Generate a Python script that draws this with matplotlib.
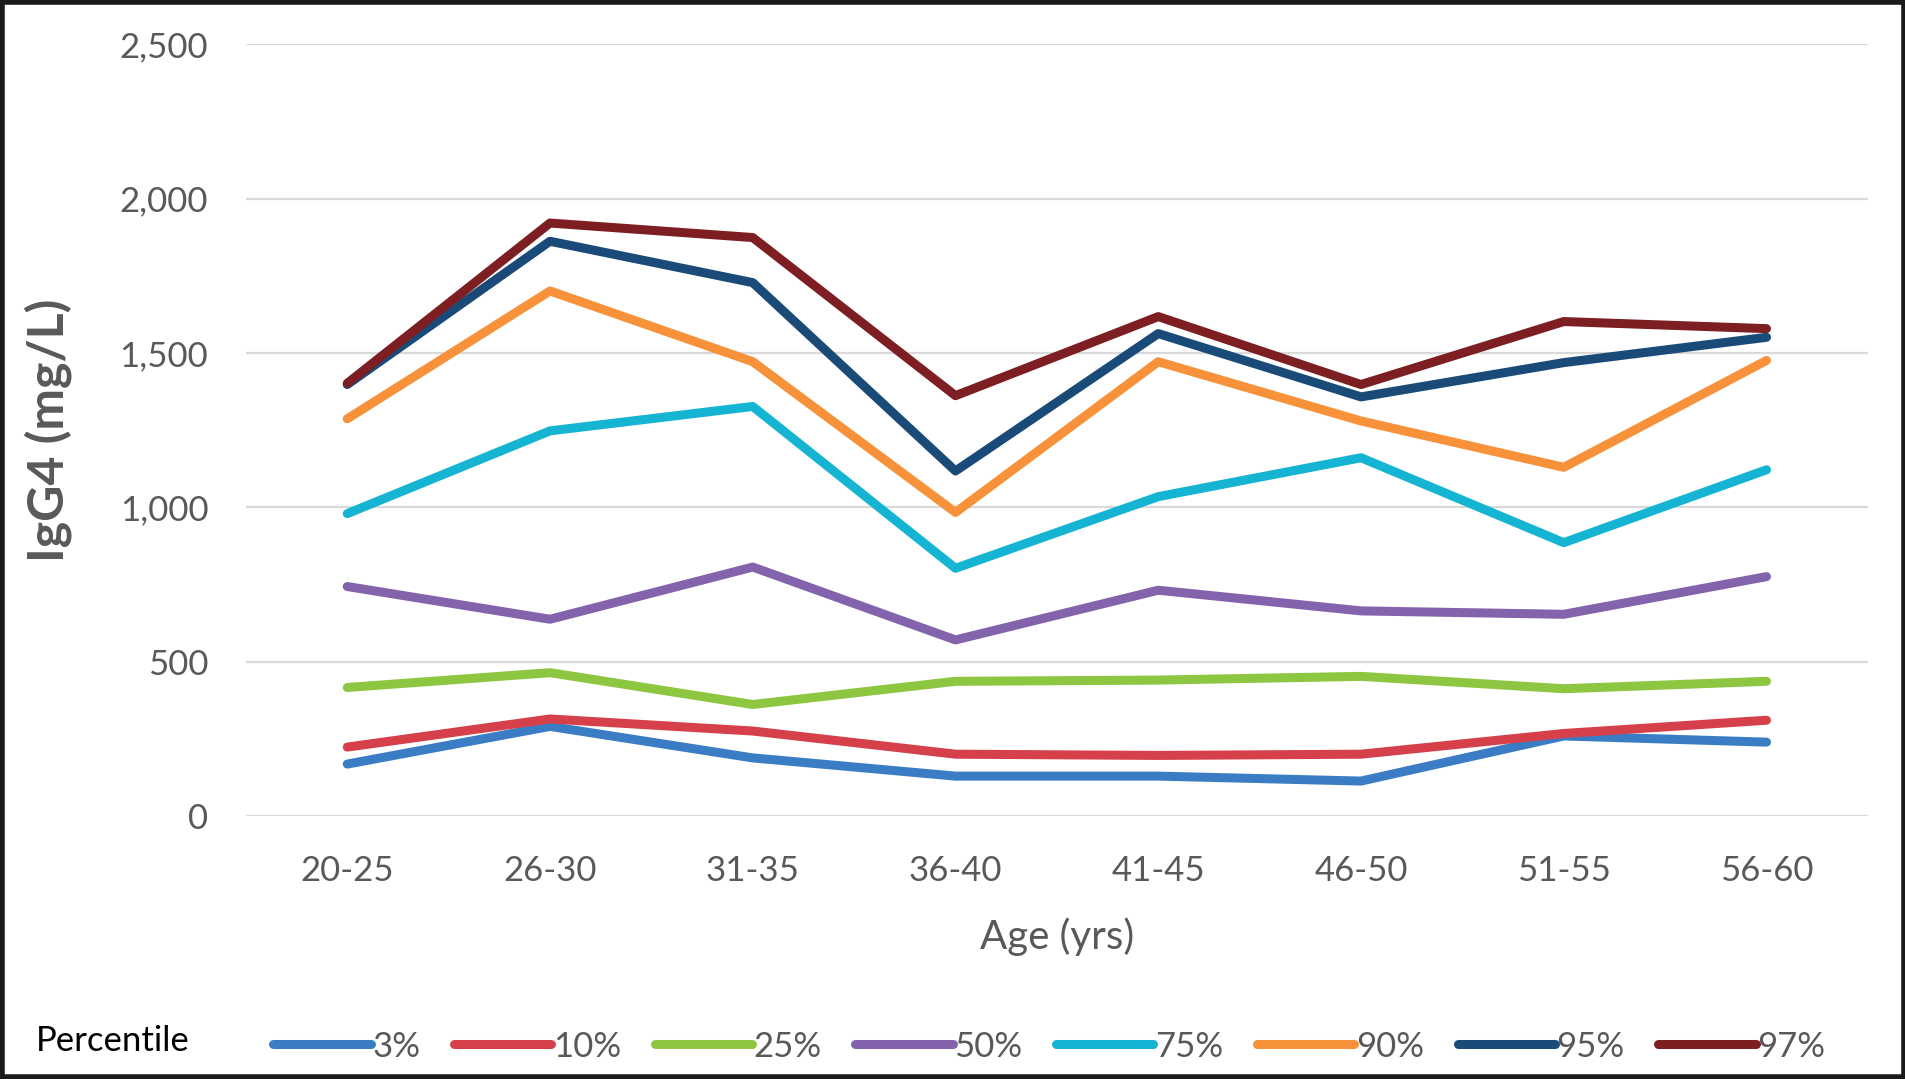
import matplotlib
matplotlib.use('Agg')
import matplotlib.pyplot as plt
from matplotlib.patches import Rectangle

plt.rcParams['font.family'] = ['Lato', 'DejaVu Sans']

# age groups on the x axis
age_groups = ['20-25', '26-30', '31-35', '36-40', '41-45', '46-50', '51-55', '56-60']

# IgG4 percentile curves (mg/L)
p3 = [169, 291, 189, 130, 130, 114, 260, 240]
p10 = [224, 315, 276, 201, 197, 201, 268, 311]
p25 = [417, 465, 362, 437, 441, 453, 413, 437]
p50 = [744, 638, 807, 571, 732, 665, 654, 776]
p75 = [980, 1248, 1327, 803, 1035, 1161, 886, 1122]
p90 = [1287, 1701, 1472, 984, 1472, 1280, 1130, 1476]
p95 = [1398, 1862, 1728, 1118, 1563, 1358, 1469, 1551]
p97 = [1402, 1921, 1874, 1362, 1618, 1398, 1602, 1579]

series_labels = ['3%', '10%', '25%', '50%', '75%', '90%', '95%', '97%']
series_values = [p3, p10, p25, p50, p75, p90, p95, p97]
colors = ['#3B7DC4', '#D6404A', '#8DC641', '#8363AC', '#14B4D2', '#F7923A', '#1A4B78', '#7D1E22']

yticks = [0, 500, 1000, 1500, 2000, 2500]
ytick_labels = ['0', '500', '1,000', '1,500', '2,000', '2,500']

text_gray = '#595959'

fig = plt.figure(figsize=(19.06, 10.79), dpi=100)
ax = fig.add_axes([0.129, 0.2435, 0.851, 0.7155])

x = list(range(len(age_groups)))
for vals, lab, col in zip(series_values, series_labels, colors):
    ax.plot(x, vals, color=col, linewidth=6.5, label=lab,
            solid_capstyle='round', solid_joinstyle='round')

ax.set_xlim(-0.5, len(age_groups) - 0.5)
ax.set_ylim(0, 2500)
ax.set_yticks(yticks)
ax.set_yticklabels(ytick_labels)
ax.set_xticks(x)
ax.set_xticklabels(age_groups)
ax.tick_params(axis='both', length=0, labelsize=25, labelcolor=text_gray)
ax.tick_params(axis='y', pad=27)
ax.tick_params(axis='x', pad=28)
ax.grid(axis='y', color='#D9D9D9', linewidth=1.6)
ax.set_axisbelow(True)
for s in ax.spines.values():
    s.set_visible(False)

ax.set_ylabel('IgG4 (mg/L)', fontsize=36, fontweight='bold', color=text_gray)
ax.yaxis.set_label_coords(-0.107, 0.5)
ax.set_xlabel('Age (yrs)', fontsize=29, color=text_gray)
ax.xaxis.set_label_coords(0.5, -0.131)

fig.legend(loc='center left', bbox_to_anchor=(0.127, 0.03), ncol=8, frameon=False,
           fontsize=25, handlelength=2.8, handletextpad=0.05, columnspacing=0.97,
           labelcolor=text_gray)
fig.text(0.019, 0.035, 'Percentile', fontsize=25, color='black', va='center', ha='left')

# black frame round the whole picture
fig.patches.append(Rectangle((0.001, 0.002), 0.998, 0.996, transform=fig.transFigure,
                             fill=False, edgecolor='#1a1a1a', linewidth=4))

fig.savefig('out.png', dpi=100)
